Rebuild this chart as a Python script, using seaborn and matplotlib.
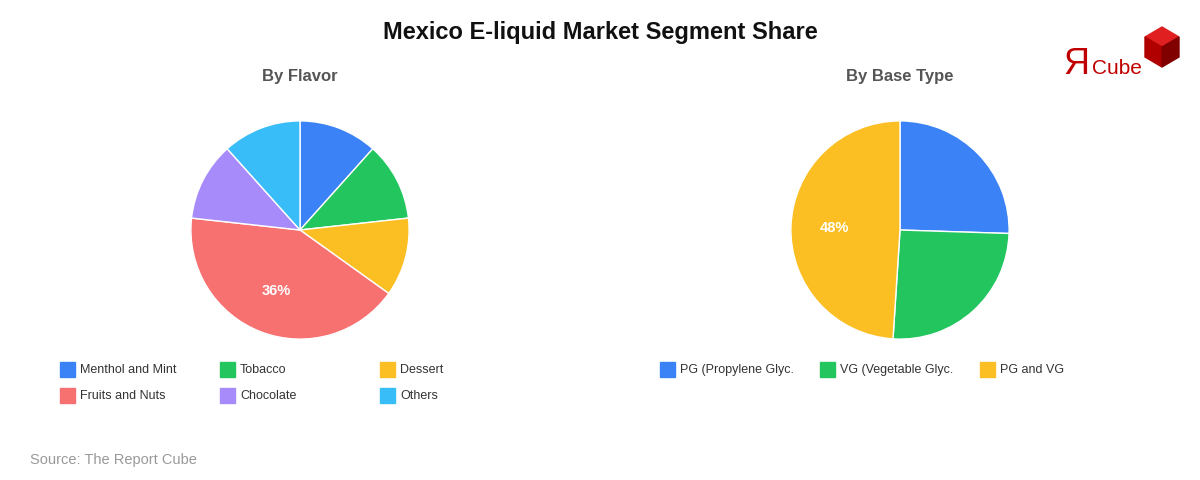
import numpy as np
import matplotlib.pyplot as plt
from matplotlib.patches import Rectangle, Polygon
import seaborn as sns

flavor_labels = ['Menthol and Mint', 'Tobacco', 'Dessert', 'Fruits and Nuts', 'Chocolate', 'Others']
flavor_values = [10, 10, 10, 36, 10, 10]
flavor_colors = ['#3B82F6', '#22C55E', '#FBBF24', '#F87171', '#A78BFA', '#38BDF8']

base_labels = ['PG (Propylene Glyc.', 'VG (Vegetable Glyc.', 'PG and VG']
base_values = [25, 25, 48]
base_colors = ['#3B82F6', '#22C55E', '#FBBF24']

sns.set_theme(style='white')
plt.rcParams['font.family'] = ['Liberation Sans', 'DejaVu Sans']

W, H = 1200, 480
fig = plt.figure(figsize=(12, 4.8), dpi=100)


def draw_pie(cx, cy, values, colors, labels, title, legend_x, legend_y):
    size = 240
    ax = fig.add_axes([(cx - size / 2) / W, 1 - (cy + size / 2) / H, size / W, size / H])
    wedges, _ = ax.pie(values, colors=colors, startangle=90, counterclock=False,
                       wedgeprops=dict(edgecolor='white', linewidth=1))
    ax.set_xlim(-1.1, 1.1)
    ax.set_ylim(-1.1, 1.1)
    ax.set_aspect('equal')
    # label only the largest slice, with its raw value
    big = values.index(max(values))
    w = wedges[big]
    ang = np.deg2rad((w.theta1 + w.theta2) / 2)
    ax.text(0.6 * np.cos(ang), 0.6 * np.sin(ang), f'{values[big]}%', color='white',
            fontsize=10.5, fontweight='bold', ha='center', va='center')
    fig.text(cx / W, 1 - 77 / H, title, ha='center', va='center', fontsize=12,
             fontweight='bold', color='#555555')
    # legend grid, 3 per row
    for i, (lab, col) in enumerate(zip(labels, colors)):
        x = legend_x + (i % 3) * 160
        y = legend_y + (i // 3) * 26
        fig.patches.append(Rectangle((x / W, 1 - (y + 7.5) / H), 15 / W, 15 / H,
                                     transform=fig.transFigure, color=col))
        fig.text((x + 20) / W, 1 - (y + 1) / H, lab, ha='left', va='center', fontsize=9,
                 color='#333333')


draw_pie(300, 230, flavor_values, flavor_colors, flavor_labels, 'By Flavor', 60, 369)
draw_pie(900, 230, base_values, base_colors, base_labels, 'By Base Type', 660, 369)

fig.text(0.5, 1 - 33 / H, 'Mexico E-liquid Market Segment Share', ha='center', va='center',
         fontsize=17, fontweight='bold', color='#111111')
fig.text(30 / W, 1 - 460 / H, 'Source: The Report Cube', ha='left', va='center',
         fontsize=10.5, color='#999999')

# logo
fig.text(1063 / W, 1 - 64 / H, 'Я', ha='left', va='center', fontsize=26, color='#C00000')
fig.text(1092 / W, 1 - 68 / H, 'Cube', ha='left', va='center', fontsize=15, color='#C00000')
def fp(pts):
    return [(x / W, 1 - y / H) for x, y in pts]
fig.patches.append(Polygon(fp([(1145, 37), (1162, 27), (1179, 37), (1162, 47)]),
                           transform=fig.transFigure, color='#E02020'))
fig.patches.append(Polygon(fp([(1145, 37), (1162, 47), (1162, 67), (1145, 57)]),
                           transform=fig.transFigure, color='#B00000'))
fig.patches.append(Polygon(fp([(1162, 47), (1179, 37), (1179, 57), (1162, 67)]),
                           transform=fig.transFigure, color='#800000'))

fig.savefig('out.png', dpi=100, facecolor='white')
